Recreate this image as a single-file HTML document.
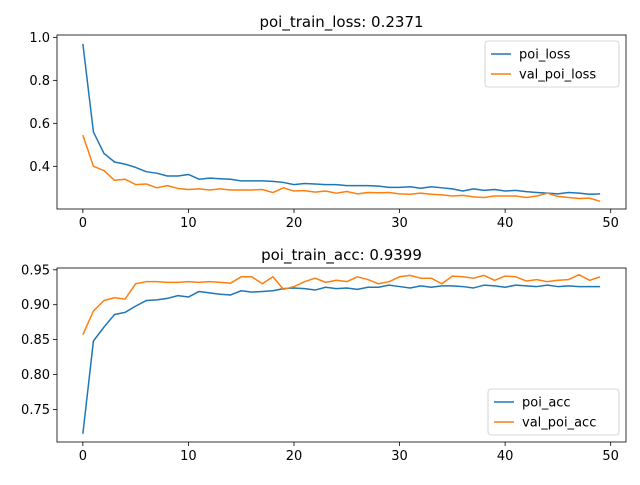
<!DOCTYPE html>
<html><head><meta charset="utf-8"><style>
body{margin:0;background:#fff;font-family:"Liberation Sans","DejaVu Sans",sans-serif}
svg text{font-family:"DejaVu Sans","Liberation Sans",sans-serif;font-size:13px;fill:#000}
</style></head><body>
<svg id="chart" width="640" height="480"></svg>
<script>
const epochs = Array.from({length:50},(_, i)=>i);
const poiLoss = [0.97,0.56,0.46,0.42,0.41,0.395,0.375,0.368,0.355,0.355,0.362,0.34,0.345,0.342,0.34,0.332,0.332,0.332,0.33,0.325,0.315,0.32,0.318,0.315,0.315,0.31,0.31,0.31,0.308,0.302,0.302,0.305,0.298,0.305,0.3,0.295,0.285,0.295,0.288,0.292,0.285,0.288,0.282,0.278,0.275,0.272,0.278,0.275,0.27,0.272];
const valPoiLoss = [0.545,0.4,0.38,0.335,0.34,0.315,0.318,0.3,0.31,0.297,0.292,0.295,0.29,0.295,0.29,0.29,0.29,0.292,0.278,0.3,0.285,0.287,0.28,0.285,0.275,0.283,0.272,0.278,0.277,0.278,0.272,0.27,0.275,0.27,0.267,0.262,0.265,0.258,0.255,0.262,0.262,0.262,0.255,0.262,0.275,0.26,0.255,0.25,0.252,0.2371];
const poiAcc = [0.715,0.848,0.868,0.886,0.889,0.898,0.906,0.907,0.909,0.913,0.911,0.919,0.917,0.915,0.914,0.92,0.918,0.919,0.92,0.923,0.924,0.923,0.921,0.925,0.923,0.924,0.922,0.925,0.925,0.928,0.926,0.924,0.927,0.925,0.927,0.927,0.926,0.924,0.928,0.927,0.925,0.928,0.927,0.926,0.928,0.926,0.927,0.926,0.926,0.926];
const valPoiAcc = [0.857,0.891,0.906,0.91,0.908,0.93,0.933,0.933,0.932,0.932,0.933,0.932,0.933,0.932,0.931,0.94,0.94,0.93,0.94,0.922,0.926,0.933,0.938,0.932,0.935,0.933,0.94,0.936,0.93,0.933,0.94,0.942,0.938,0.938,0.93,0.941,0.94,0.938,0.942,0.935,0.941,0.94,0.934,0.936,0.933,0.935,0.936,0.943,0.935,0.9399];
const xTicks = [0,10,20,30,40,50];
const lossTicks = [0.4,0.6,0.8,1.0];
const accTicks = [0.75,0.80,0.85,0.90,0.95];

const NS="http://www.w3.org/2000/svg";
const svg=document.getElementById('chart');
function mk(t,a,p){const e=document.createElementNS(NS,t);for(const k in a)e.setAttribute(k,a[k]);(p||svg).appendChild(e);return e;}
const X0=57,X1=626,XMIN=-2.45,XMAX=51.45;
const xs=v=>X0+(v-XMIN)/(XMAX-XMIN)*(X1-X0);

function panel(name,top,bottom,ymin,ymax,ticks,fmt,series,title,legendPos){
  const ys=v=>bottom-(v-ymin)/(ymax-ymin)*(bottom-top);
  const g=mk('g',{});
  
  
  const t=mk('text',{x:(X0+X1)/2,y:top-8,'text-anchor':'middle'},g);
  t.style.fontSize='15px';t.textContent=title;
  
  
  xTicks.forEach(v=>{const x=xs(v);if(x>X1)return;
    mk('line',{x1:x,x2:x,y1:bottom,y2:bottom+4,stroke:'#000','stroke-width':0.8},g);
    const l=mk('text',{x:x,y:bottom+18,'text-anchor':'middle'},g);l.textContent=v;
    
    });
  ticks.forEach(v=>{const y=ys(v);
    mk('line',{x1:X0-4,x2:X0,y1:y,y2:y,stroke:'#000','stroke-width':0.8},g);
    const l=mk('text',{x:X0-7,y:y+4.5,'text-anchor':'end'},g);l.textContent=fmt(v);
    
    });
  series.forEach(s=>{const p=mk('polyline',{points:s.data.map((v,i)=>xs(epochs[i])+','+ys(v)).join(' '),fill:'none',stroke:s.color,'stroke-width':1.5,'stroke-linejoin':'round'},g);
    
    });
  const ax=mk('rect',{x:X0,y:top,width:X1-X0,height:bottom-top,fill:'none',stroke:'#000','stroke-width':0.8},g);
  
  
  const lg=mk('g',{},g);
  
  
  mk('rect',{x:legendPos[0],y:legendPos[1],width:legendPos[2],height:46,rx:3,fill:'#fff',stroke:'#ccc','stroke-width':0.8},lg);
  series.forEach((s,i)=>{const y=legendPos[1]+13+i*20;
    mk('line',{x1:legendPos[0]+6,x2:legendPos[0]+26,y1:y,y2:y,stroke:s.color,'stroke-width':1.5},lg);
    const l=mk('text',{x:legendPos[0]+34,y:y+4.5},lg);l.textContent=s.name;
    
    });
}
panel('loss',35,209,0.2014,1.011,lossTicks,v=>v.toFixed(1),
  [{name:'poi_loss',data:poiLoss,color:'#1f77b4'},{name:'val_poi_loss',data:valPoiLoss,color:'#ff7f0e'}],
  'poi_train_loss: 0.2371',[485,41,134]);
panel('acc',268,442,0.7033,0.9526,accTicks,v=>v.toFixed(2),
  [{name:'poi_acc',data:poiAcc,color:'#1f77b4'},{name:'val_poi_acc',data:valPoiAcc,color:'#ff7f0e'}],
  'poi_train_acc: 0.9399',[488,389,131]);
</script>
</body></html>
